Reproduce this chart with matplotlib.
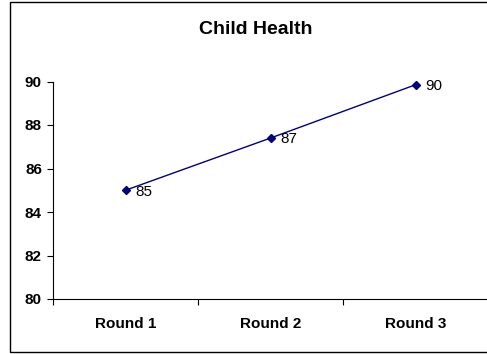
import matplotlib
matplotlib.use("Agg")
import matplotlib.pyplot as plt
from matplotlib.patches import Rectangle
from matplotlib.ticker import FixedLocator

categories = ["Round 1", "Round 2", "Round 3"]
values = [85.0, 87.4, 89.85]
y_ticks = [80, 82, 84, 86, 88, 90]

plt.rcParams['font.family'] = ['Liberation Sans', 'DejaVu Sans']

fig = plt.figure(figsize=(4.87, 3.54), dpi=100)
W, H = 487, 354

# outer chart border
fig.patches.append(Rectangle((10 / W, 1 - 352 / H), 1.2, (352 - 2) / H,
                             transform=fig.transFigure, fill=False,
                             edgecolor='black', linewidth=1.0))

ax = fig.add_axes([53 / W, 1 - 299 / H, (488 - 53) / W, (299 - 81.5) / H])
x = list(range(len(categories)))
ax.plot(x, values, color='#000080', linewidth=1.0, marker='D', markersize=4.5,
        markerfacecolor='#000080', markeredgecolor='#000080', clip_on=False)

for xi, v in zip(x, values):
    ax.annotate(f"{v:.0f}", (xi, v), xytext=(7, -1), textcoords='offset points',
                ha='left', va='center', fontsize=11)

ax.set_xlim(-0.5, len(categories) - 0.5)
ax.set_ylim(80, 90)
ax.set_yticks(y_ticks)
ax.set_yticklabels([str(t) for t in y_ticks], fontweight='bold', fontsize=11)
ax.set_xticks(x)
ax.set_xticklabels(categories, fontweight='bold', fontsize=11)
ax.xaxis.set_minor_locator(FixedLocator([i - 0.5 for i in range(len(categories) + 1)]))
ax.tick_params(axis='x', which='major', length=0, pad=13)
ax.tick_params(axis='x', which='minor', length=4, width=0.8, direction='out')
ax.tick_params(axis='y', length=4, width=0.8, direction='out', pad=4)

for s in ('top', 'right'):
    ax.spines[s].set_visible(False)
for s in ('left', 'bottom'):
    ax.spines[s].set_linewidth(0.8)

fig.text(256 / W, 1 - 29 / H, "Child Health", ha='center', va='center',
         fontsize=14, fontweight='bold')

fig.savefig("out.png", dpi=100)
